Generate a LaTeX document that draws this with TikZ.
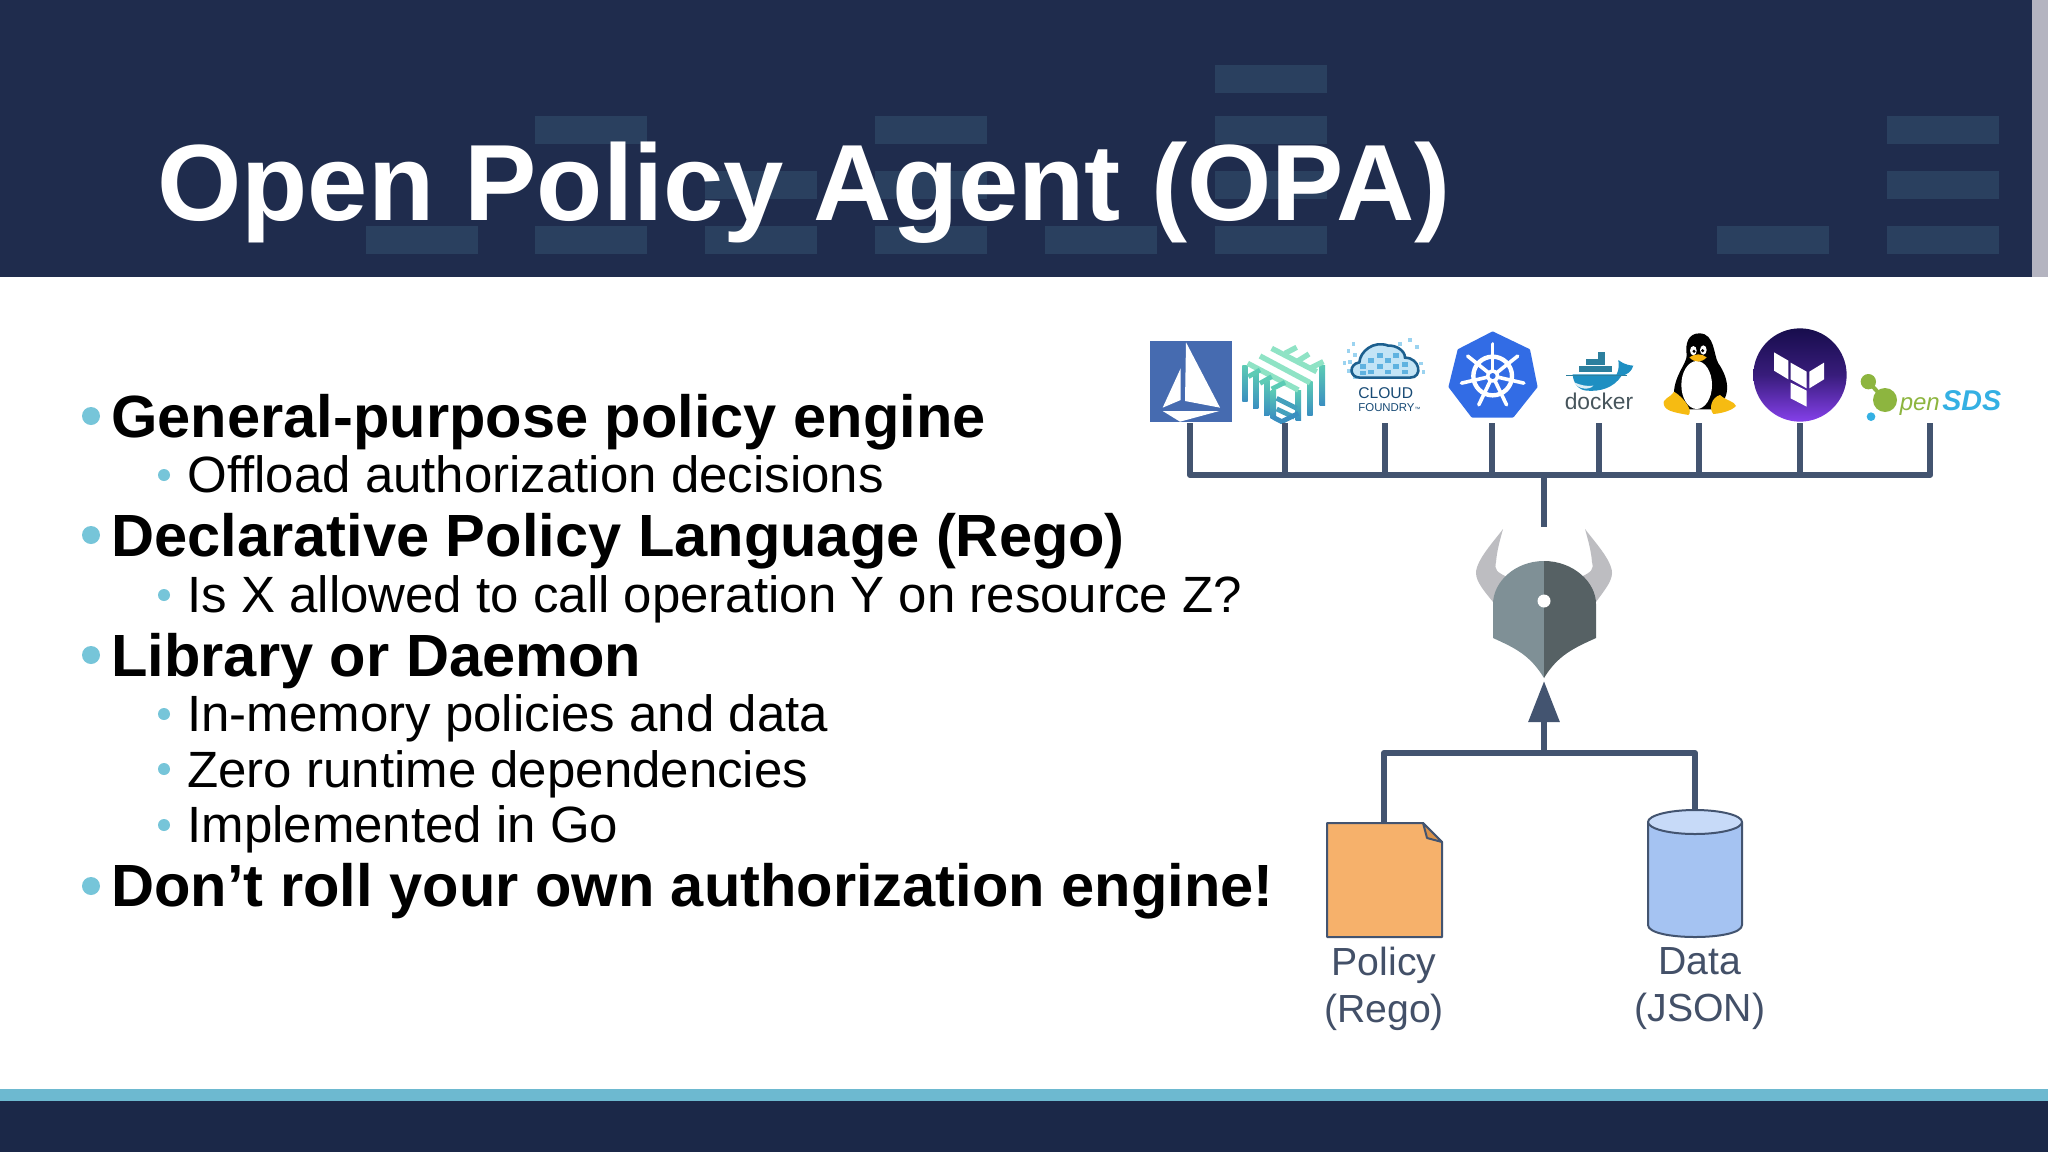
\documentclass[tikz,border=0pt]{standalone}
\usepackage{fontspec}
\setmainfont{Liberation Sans}
\usetikzlibrary{arrows.meta}
\definecolor{headernavy}{HTML}{1F2C4D}
\definecolor{headersquare}{HTML}{2A405F}
\definecolor{strip}{HTML}{B4B4C0}
\definecolor{bullet}{HTML}{76C5D9}
\definecolor{band}{HTML}{6DB9D0}
\definecolor{footer}{HTML}{1B2848}
\definecolor{conn}{HTML}{435470}
\definecolor{labeltext}{HTML}{435068}
\definecolor{docfill}{HTML}{F6B16B}
\definecolor{docfold}{HTML}{D9924B}
\definecolor{cylfill}{HTML}{A5C3F2}
\definecolor{cyltop}{HTML}{C7DAF8}
\definecolor{hornfill}{HTML}{BDBDC1}
\definecolor{helmlight}{HTML}{7F9096}
\definecolor{helmdark}{HTML}{566164}
\definecolor{istioblue}{HTML}{466BB0}
\definecolor{linkmint}{HTML}{8FE3C5}
\definecolor{linkteal}{HTML}{5CCBB5}
\definecolor{linkblue}{HTML}{3A8FC0}
\definecolor{cloudnavy}{HTML}{1C5F8E}
\definecolor{cloudtext}{HTML}{174A75}
\definecolor{cloudsky}{HTML}{9BD3F0}
\definecolor{cloudmid}{HTML}{5FB2E0}
\definecolor{kubeblue}{HTML}{326CE5}
\definecolor{dockerblue}{HTML}{1E8FC2}
\definecolor{dockerbox}{HTML}{2C7F9E}
\definecolor{dockergrey}{HTML}{47555C}
\definecolor{tuxyellow}{HTML}{F6BB12}
\definecolor{tfdark}{HTML}{170D4C}
\definecolor{tfpurple}{HTML}{8540EA}
\definecolor{sdsgreen}{HTML}{8DB53F}
\definecolor{sdsblue}{HTML}{34B0E3}
\tikzset{
  connector/.style={draw=conn,line width=3pt},
  titletext/.style={anchor=base west,inner sep=0pt,text=white,font=\bfseries\fontsize{54.2}{60}\selectfont},
  mainitem/.style={anchor=base west,inner sep=0pt,font=\bfseries\fontsize{29.8}{32}\selectfont},
  subitem/.style={anchor=base west,inner sep=0pt,font=\fontsize{25.5}{28}\selectfont},
  filelabel/.style={inner sep=0pt,align=center,text=labeltext,font=\fontsize{19.6}{23.5}\selectfont},
  linkstripe/.style={draw=linkmint,line width=2.7pt},
  shapeline/.style={draw=conn,line width=1pt,line join=round}
}
\begin{document}
\begin{tikzpicture}[x=0.5pt,y=-0.5pt]
    \useasboundingbox (0,0) rectangle (2048,1152);
    \fill [white] (0,0) rectangle (2048,1152);

    \fill [headernavy] (0,0) rectangle (2032,277);
    \fill [strip] (2032,0) rectangle (2048,277);
    \foreach \x/\y in {366/226,535/226,705/226,875/226,1045/226,1215/226,1717/226,1887/226,
                       705/171,875/171,1215/171,1887/171,535/116,875/116,1215/116,1887/116,1215/65}
        \fill [headersquare] (\x,\y) rectangle ++(112,28);
    \fill [band] (0,1089) rectangle (2048,1101);
    \fill [footer] (0,1101) rectangle (2048,1152);

    \node (title) at (157,220) [titletext] {Open Policy Agent (OPA)};

    \foreach \y in {416,535,655,886}
        \fill [bullet] (91,\y) circle (9);
    \foreach \y in {475,595,714,769,825}
        \fill [bullet] (164,\y) circle (6);
    \node (general) at (111,437.5) [mainitem] {General-purpose policy engine};
    \node (offload) at (187,492.5) [subitem] {Offload authorization decisions};
    \node (declarative) at (111,556.5) [mainitem] {Declarative Policy Language (Rego)};
    \node (allowed) at (187,612.5) [subitem] {Is X allowed to call operation Y on resource Z?};
    \node (library) at (111,676) [mainitem] {Library or Daemon};
    \node (inmemory) at (187,731.5) [subitem] {In-memory policies and data};
    \node (zero) at (187,787) [subitem] {Zero runtime dependencies};
    \node (golang) at (187,842.5) [subitem] {Implemented in Go};
    \node (noroll) at (111,906.5) [mainitem] {Don’t roll your own authorization engine!};

    \begin{scope}[shift={(1140,325)},scale=0.3333]
        \fill [istioblue] (30,48) rectangle (275,292);
        \fill [white] (138,52) -- (240,248) -- (135,228) -- cycle;
        \fill [white] (122,130) -- (122,225) -- (68,248) -- cycle;
        \fill [white] (68,258) -- (238,258) -- (120,290) -- cycle;
    \end{scope}

    \begin{scope}[shift={(1235,340)},scale=0.3333]
        \foreach \a/\b/\c in {30/75/185,62/95/205,95/120/225,115/150/235,190/150/240,225/125/225,262/75/195}
            \shade [top color=linkteal,bottom color=linkblue] (\a-8,\b) -- (\a+8,\b) -- (\a+8,\c) -- (\a-8,\c) -- cycle;
        \draw [linkstripe] (110,25) -- (245,95);
        \draw [linkstripe] (75,48) -- (225,128);
        \draw [linkstripe] (38,70) -- (190,150);
        \draw [linkstripe] (150,40) -- (185,22);
        \draw [linkstripe] (190,62) -- (222,42);
        \draw [linkstripe] (225,85) -- (265,65);
        \draw [draw=linkteal,line width=2.4pt] (40,110) -- (75,90);
        \draw [draw=linkteal,line width=2.4pt] (75,130) -- (110,110);
        \draw [draw=linkteal,line width=2.4pt] (110,147) -- (150,127);
        \draw [draw=linkblue!70!linkteal,line width=2.4pt] (125,175) -- (185,205);
        \draw [draw=linkblue!70!linkteal,line width=2.4pt] (125,207) -- (178,232);
        \draw [draw=linkblue,line width=2.4pt,line join=round] (115,232) -- (140,245) -- (190,220);
    \end{scope}

    \begin{scope}[shift={(1340,335)},scale=0.3333]
        \foreach \a/\b in {35/22,20/42,40/55,25/75,8/78,22/102,40/120,205/10,225/30,175/22,238/80,245/105}
            \fill [cloudsky] (\a,\b) rectangle ++(11,11);
        \fill [cloudsky!60!white] (60,128) .. controls (28,128) and (25,88) .. (58,82)
            .. controls (60,50) and (100,15) .. (145,32) .. controls (165,30) and (195,45) .. (195,68)
            .. controls (240,68) and (250,128) .. (210,128) -- cycle;
        \foreach \a/\b in {60/88,85/70,110/55,110/88,135/70,135/105,160/88,185/105,85/105,60/108,185/82,160/55}
            \fill [cloudmid] (\a,\b) rectangle ++(18,13);
        \draw [draw=cloudnavy,line width=1.3pt] (60,128) .. controls (28,128) and (25,88) .. (58,82)
            .. controls (60,50) and (100,15) .. (145,32) .. controls (165,30) and (195,45) .. (195,68)
            .. controls (240,68) and (250,128) .. (210,128) -- cycle;
        \node (cloudname) at (54,191) [anchor=base west,inner sep=0pt,text=cloudtext,font=\fontsize{7.8}{8}\selectfont] {CLOUD};
        \node (cloudsub) at (54,230) [anchor=base west,inner sep=0pt,text=cloudtext,font=\fontsize{5.7}{6}\selectfont] {FOUNDRY{\fontsize{3}{3}\selectfont ™}};
    \end{scope}

    \begin{scope}[shift={(1430,325)},scale=0.3333]
        \fill [kubeblue,draw=kubeblue,line width=1.5pt,line join=round] (188,24) -- (296,76) -- (318,185) -- (248,273) -- (127,273) -- (60,185) -- (87,76) -- cycle;
        \draw [white,line width=2.2pt] (188,153) circle (58);
        \foreach \a in {-90,-38.57,12.86,64.29,115.71,167.14,218.57}
            \draw [white,line width=1.8pt,line cap=round] (188,153) -- ++(\a:96);
        \fill [white] (188,153) circle (20);
        \fill [kubeblue] (188,153) circle (9);

        \foreach \a/\b/\c/\d in {503/82/525/102,468/102/525/120,447/122/545/140}
            \fill [dockerbox] (\a,\b) rectangle (\c,\d);
        \fill [dockerblue] (428,148) -- (560,148) .. controls (570,125) and (565,115) .. (565,105)
            .. controls (575,112) and (585,120) .. (610,122) .. controls (605,140) and (590,150) .. (575,152)
            .. controls (550,190) and (510,200) .. (470,197) .. controls (445,195) and (430,175) .. (428,148);
        \fill [white!85!dockerblue] (432,172) .. controls (450,180) and (470,185) .. (490,182) .. controls (480,195) and (445,195) .. (432,172);
        \draw [dockerbox,line width=0.5pt] (408,151) -- (590,151);
        \node (dockername) at (507,252) [anchor=base,inner sep=0pt,text=dockergrey,font=\fontsize{11.4}{12}\selectfont] {docker};
    \end{scope}

    \begin{scope}[shift={(1650,320)},scale=0.3333]
        \fill [black] (148,40) .. controls (115,40) and (105,70) .. (110,105)
            .. controls (112,130) and (68,170) .. (72,230) -- (100,268) -- (190,268)
            .. controls (245,240) and (240,180) .. (205,130) .. controls (190,105) and (195,40) .. (148,40);
        \fill [white] (140,195) ellipse (46 and 72);
        \fill [white] (130,92) ellipse (10 and 14);
        \fill [white] (160,90) ellipse (10 and 14);
        \fill [black] (132,94) circle (5);
        \fill [black] (158,92) circle (5);
        \fill [tuxyellow!90!orange] (118,112) .. controls (135,100) and (155,100) .. (170,112) .. controls (155,128) and (135,130) .. (118,112);
        \fill [tuxyellow] (72,215) .. controls (60,235) and (35,235) .. (42,255) .. controls (45,275) and (90,280) .. (115,285)
            .. controls (130,275) and (105,235) .. (72,215);
        \fill [tuxyellow] (210,225) .. controls (225,240) and (255,245) .. (258,258) .. controls (245,272) and (215,280) .. (190,282)
            .. controls (175,265) and (185,232) .. (210,225);

        \shade [top color=tfdark,bottom color=tfpurple,middle color=tfdark!70!tfpurple] (450,165) ellipse (140 and 140);
        \fill [white] (372,97) -- (415,122) -- (415,178) -- (372,152) -- cycle;
        \fill [white] (422,128) -- (470,155) -- (470,205) -- (422,178) -- cycle;
        \fill [white] (478,155) -- (522,128) -- (522,178) -- (478,205) -- cycle;
        \fill [white] (422,188) -- (470,212) -- (470,260) -- (422,235) -- cycle;
    \end{scope}

    \begin{scope}[shift={(1840,350)},scale=0.3333]
        \fill [sdsgreen] (85,95) circle (23);
        \fill [sdsgreen] (135,150) circle (36);
        \draw [sdsgreen,line width=2pt] (85,95) -- (135,150);
        \fill [sdsblue] (93,200) circle (13);
        \node (sdspen) at (178,180) [anchor=base west,inner sep=0pt,text=sdsgreen,font=\itshape\fontsize{12}{12}\selectfont] {pen};
        \node (sdsname) at (306,180) [anchor=base west,inner sep=0pt,text=sdsblue,font=\bfseries\itshape\fontsize{14.3}{14}\selectfont] {SDS};
    \end{scope}

    \foreach \name/\x in {istio/1190,linkerd/1285,cloud/1385,kube/1492,docker/1599,tux/1699,tform/1800,sds/1930} {
        \coordinate (\name) at (\x,423);
        \coordinate (\name-bus) at (\x,475);
        \draw [connector] (\name) -- (\name-bus);
    }
    \coordinate (opabus) at (1544,475);
    \coordinate (opatop) at (1544,527);
    \coordinate (opatip) at (1544,681);
    \coordinate (join) at (1544,753);
    \coordinate (policy) at (1384,823);
    \coordinate (data) at (1695,811);
    \draw [connector,line cap=round] (istio-bus) -- (sds-bus);
    \draw [connector] (opabus) -- (opatop);
    \draw [connector,line join=round] (policy) |- (join) -| (data);
    \draw [connector,-{Triangle[length=20.5pt,width=15pt]}] (join) -- (opatip);

    \fill [hornfill] (1503,529) .. controls (1495,540) and (1476,560) .. (1476,573)
        .. controls (1476,582) and (1485,592) .. (1493,602) -- (1507,577)
        .. controls (1497,572) and (1494,570) .. (1496,562) .. controls (1497,550) and (1500,540) .. (1503,529);
    \fill [hornfill] (1585,529) .. controls (1593,540) and (1612,560) .. (1612,573)
        .. controls (1612,582) and (1603,592) .. (1596,602) -- (1581,577)
        .. controls (1591,572) and (1594,570) .. (1592,562) .. controls (1591,550) and (1588,540) .. (1585,529);
    \fill [helmlight] (1544,561) .. controls (1515,561) and (1493,582) .. (1493,604) -- (1493,638)
        .. controls (1515,648) and (1530,655) .. (1544,678) -- cycle;
    \fill [helmdark] (1544,561) .. controls (1573,561) and (1596,582) .. (1596,604) -- (1596,638)
        .. controls (1574,648) and (1558,655) .. (1544,678) -- cycle;
    \fill [white] (1544,601) circle (6.5);

    \draw [shapeline,fill=docfill] (1327,823) -- (1423,823) -- (1442,842) -- (1442,937) -- (1327,937) -- cycle;
    \draw [shapeline,fill=docfold] (1423,823) -- (1442,842) -- (1427,838) -- cycle;
    \draw [shapeline,fill=cylfill] (1648,822) -- (1648,925) .. controls (1648,941) and (1742,941) .. (1742,925) -- (1742,822) -- cycle;
    \draw [shapeline,fill=cyltop] (1695,822) ellipse (47 and 12);
    \node (policytext) at (1384,989) [filelabel] {Policy\\(Rego)};
    \node (datatext) at (1700,989) [filelabel] {Data\\(JSON)};
\end{tikzpicture}
\end{document}
